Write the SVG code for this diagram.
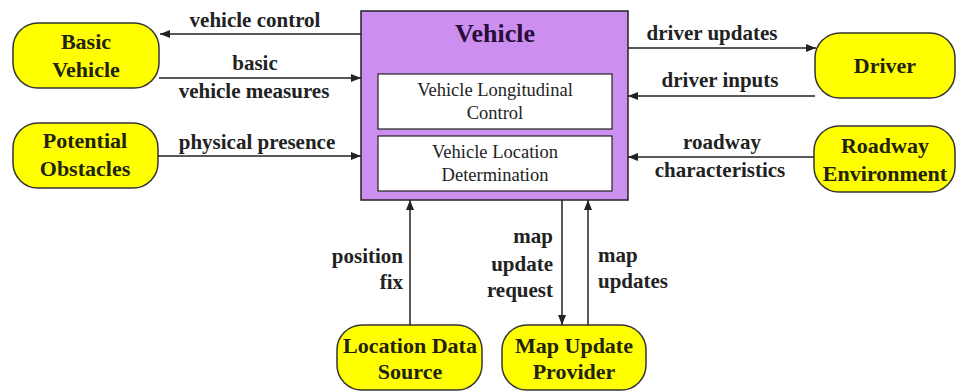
<svg xmlns="http://www.w3.org/2000/svg" width="956" height="392" viewBox="0 0 956 392">
  <style>
    text { font-family: "Liberation Serif", "DejaVu Serif", "Times New Roman", Times, serif; }
    .term { fill: #ffff00; stroke: #333333; stroke-width: 1.5; }
    .termtxt { font-weight: bold; font-size: 22px; fill: #222211; text-anchor: middle; }
    .lbl { font-weight: bold; font-size: 21px; fill: #222222; }
    .mid { text-anchor: middle; }
    .end { text-anchor: end; }
    .start { text-anchor: start; }
    .main { fill: #cc8ff0; stroke: #222222; stroke-width: 1.5; }
    .sub { fill: #ffffff; stroke: #222222; stroke-width: 1.2; }
    .subtxt { font-size: 18.5px; fill: #222222; text-anchor: middle; }
    .title { font-weight: bold; font-size: 26px; fill: #2a0c3a; text-anchor: middle; }
    .conn { stroke: #222222; stroke-width: 1.5; fill: none; marker-end: url(#arrow); }
  </style>
  <defs>
    <marker id="arrow" viewBox="0 0 10 8" refX="10" refY="4" markerWidth="10" markerHeight="8" markerUnits="userSpaceOnUse" orient="auto">
      <path d="M0,0 L10,4 L0,8 z" fill="#222222"/>
    </marker>
  </defs>
  <rect width="956" height="392" fill="#ffffff"/>

  <g id="vehicle">
    <rect class="main" x="361" y="11" width="267" height="189"/>
    <text class="title" x="495" y="42">Vehicle</text>
    <g id="vehicle-longitudinal-control">
      <rect class="sub" x="378" y="74" width="234" height="55"/>
      <text class="subtxt" x="495" y="96">Vehicle Longitudinal</text>
      <text class="subtxt" x="495" y="119">Control</text>
    </g>
    <g id="vehicle-location-determination">
      <rect class="sub" x="378" y="136" width="234" height="55"/>
      <text class="subtxt" x="495" y="158">Vehicle Location</text>
      <text class="subtxt" x="495" y="181">Determination</text>
    </g>
  </g>

  <g id="basic-vehicle">
    <rect class="term" x="13" y="23" width="146" height="65" rx="25" ry="25"/>
    <text class="termtxt" x="86" y="49">Basic</text>
    <text class="termtxt" x="86" y="77">Vehicle</text>
  </g>
  <g id="potential-obstacles">
    <rect class="term" x="13" y="123" width="145" height="65" rx="25" ry="25"/>
    <text class="termtxt" x="85" y="148">Potential</text>
    <text class="termtxt" x="85" y="176">Obstacles</text>
  </g>
  <g id="driver">
    <rect class="term" x="815" y="33" width="140" height="65" rx="25" ry="25"/>
    <text class="termtxt" x="885" y="73">Driver</text>
  </g>
  <g id="roadway-environment">
    <rect class="term" x="814" y="126" width="141" height="66" rx="25" ry="25"/>
    <text class="termtxt" x="885" y="153">Roadway</text>
    <text class="termtxt" x="885" y="181">Environment</text>
  </g>
  <g id="location-data-source">
    <rect class="term" x="337" y="325" width="145" height="65" rx="25" ry="25"/>
    <text class="termtxt" x="410" y="353">Location Data</text>
    <text class="termtxt" x="410" y="379">Source</text>
  </g>
  <g id="map-update-provider">
    <rect class="term" x="502" y="325" width="144" height="65" rx="25" ry="25"/>
    <text class="termtxt" x="574" y="353">Map Update</text>
    <text class="termtxt" x="574" y="379">Provider</text>
  </g>

  <g id="connectors">
    <line class="conn" x1="361" y1="34" x2="160" y2="34"/>
    <line class="conn" x1="159" y1="78" x2="361" y2="78"/>
    <line class="conn" x1="158" y1="156" x2="361" y2="156"/>
    <line class="conn" x1="628" y1="48" x2="816" y2="48"/>
    <line class="conn" x1="815" y1="96" x2="628" y2="96"/>
    <line class="conn" x1="814" y1="157" x2="628" y2="157"/>
    <line class="conn" x1="410" y1="325" x2="410" y2="200"/>
    <line class="conn" x1="562" y1="200" x2="562" y2="325"/>
    <line class="conn" x1="588" y1="325" x2="588" y2="200"/>

    <text class="lbl mid" x="255" y="27">vehicle control</text>
    <text class="lbl mid" x="255" y="70">basic</text>
    <text class="lbl mid" x="254" y="98">vehicle measures</text>
    <text class="lbl mid" x="257" y="149">physical presence</text>
    <text class="lbl mid" x="712" y="40">driver updates</text>
    <text class="lbl mid" x="720" y="87">driver inputs</text>
    <text class="lbl mid" x="722" y="149">roadway</text>
    <text class="lbl mid" x="720" y="177">characteristics</text>
    <text class="lbl end" x="403" y="263">position</text>
    <text class="lbl end" x="403" y="289">fix</text>
    <text class="lbl end" x="553" y="243">map</text>
    <text class="lbl end" x="553" y="271">update</text>
    <text class="lbl end" x="553" y="297">request</text>
    <text class="lbl start" x="598" y="262">map</text>
    <text class="lbl start" x="598" y="288">updates</text>
  </g>
</svg>
